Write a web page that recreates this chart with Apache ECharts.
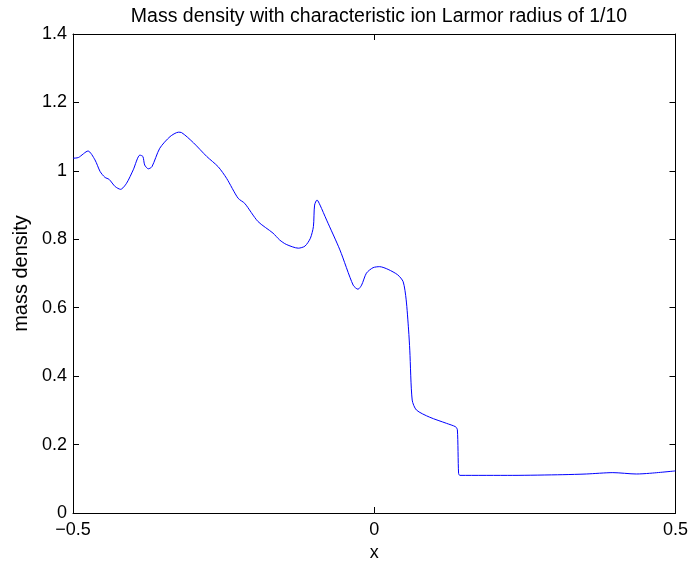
<!DOCTYPE html>
<html>
<head>
<meta charset="utf-8">
<script src="https://cdn.jsdelivr.net/npm/echarts@6/dist/echarts.min.js"></script>
<style>html,body{margin:0;padding:0;background:#fff;}#c{width:691px;height:569px;}</style>
</head>
<body>
<div id="c"></div>
<script>
const xValues = [-0.5,-0.491,-0.475,-0.4635,-0.455,-0.447,-0.440,-0.430,-0.421,-0.411,-0.400,-0.389,-0.384,-0.381,-0.375,-0.369,-0.356,-0.339,-0.325,-0.320,-0.300,-0.278,-0.259,-0.245,-0.226,-0.215,-0.193,-0.168,-0.157,-0.146,-0.126,-0.115,-0.106,-0.101,-0.099,-0.095,-0.090,-0.079,-0.057,-0.035,-0.027,-0.021,-0.013,-0.002,0.009,0.023,0.039,0.048,0.053,0.057,0.059,0.063,0.070,0.092,0.120,0.135,0.138,0.140,0.142,0.230,0.313,0.352,0.396,0.435,0.457,0.500];
const density = [1.037,1.039,1.058,1.032,0.998,0.981,0.975,0.954,0.946,0.964,1.003,1.046,1.042,1.017,1.006,1.012,1.066,1.100,1.113,1.112,1.082,1.042,1.012,0.978,0.920,0.905,0.852,0.818,0.798,0.785,0.774,0.780,0.803,0.837,0.900,0.915,0.900,0.856,0.769,0.666,0.654,0.666,0.701,0.717,0.720,0.712,0.696,0.676,0.623,0.535,0.476,0.330,0.301,0.280,0.262,0.252,0.243,0.116,0.110,0.110,0.112,0.114,0.118,0.114,0.116,0.123];
const xTicks = [-0.5, 0, 0.5];
const yTicks = [0, 0.2, 0.4, 0.6, 0.8, 1, 1.2, 1.4];

const font = 'Liberation Sans, Arial, Helvetica, sans-serif';
const fmtX = v => { const r = Math.round(v*10)/10; return xTicks.includes(r) ? String(r).replace('-', '\u2212') : ''; };
const fmtY = v => { const r = Math.round(v*10)/10; return yTicks.includes(r) ? String(r) : ''; };
const chart = echarts.init(document.getElementById('c'));
const tick = {show:true, inside:true, length:6, lineStyle:{color:'#000', width:1}};
const line = {show:true, onZero:false, lineStyle:{color:'#000', width:1}};
chart.setOption({
  animation:false,
  backgroundColor:'#fff',
  title:{text:'Mass density with characteristic ion Larmor radius of 1/10', left:374, textAlign:'center', top:2,
    textStyle:{fontFamily:font, fontSize:19.5, fontWeight:'normal', color:'#000'}},
  grid:{left:73, right:15, top:34, bottom:56},
  xAxis:[
    {type:'value', min:-0.5, max:0.5, interval:0.5, position:'bottom', name:'x', nameLocation:'middle', nameGap:30,
     nameTextStyle:{fontFamily:font, fontSize:18, color:'#000'},
     axisLine:line, axisTick:tick, splitLine:{show:false},
     axisLabel:{fontFamily:font, fontSize:18, color:'#000', margin:8, formatter:fmtX}},
    {type:'value', min:-0.5, max:0.5, interval:0.5, position:'top', axisLine:line, axisTick:tick, splitLine:{show:false}, axisLabel:{show:false}}
  ],
  yAxis:[
    {type:'value', min:0, max:1.4, interval:0.2, position:'left', name:'mass density', nameLocation:'middle', nameGap:41,
     nameTextStyle:{fontFamily:font, fontSize:20, color:'#000'},
     axisLine:line, axisTick:tick, splitLine:{show:false},
     axisLabel:{fontFamily:font, fontSize:18, color:'#000', margin:6, formatter:fmtY}},
    {type:'value', min:0, max:1.4, interval:0.2, position:'right', axisLine:line, axisTick:tick, splitLine:{show:false}, axisLabel:{show:false}}
  ],
  series:[{type:'line', data:xValues.map((x,i)=>[x, density[i]]), showSymbol:false, smooth:0.25,
    lineStyle:{color:'#0000ff', width:1}}]
});
</script>
</body>
</html>
